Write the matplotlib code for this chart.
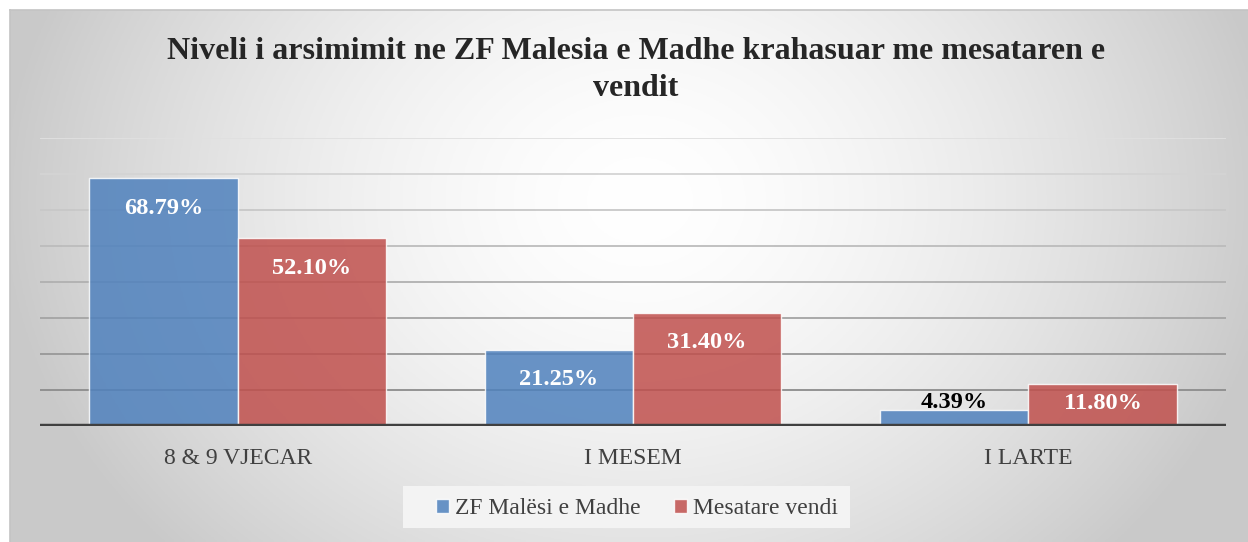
import numpy as np
import matplotlib
matplotlib.use("Agg")
import matplotlib.pyplot as plt
from matplotlib.patches import Rectangle

# ---- data ----
categories = ["8 & 9 VJECAR", "I MESEM", "I LARTE"]
series_names = ["ZF Malësi e Madhe", "Mesatare vendi"]
zf_values = [68.79, 21.25, 4.39]
national_values = [52.10, 31.40, 11.80]
label_texts_zf = ["68.79%", "21.25%", "4.39%"]
label_texts_nat = ["52.10%", "31.40%", "11.80%"]
title = "Niveli i arsimimit ne ZF Malesia e Madhe krahasuar me mesataren e\nvendit"

W, H = 1248, 542
fig = plt.figure(figsize=(W / 100, H / 100), dpi=100)
fig.patch.set_facecolor("white")

# ---- background radial gradient chart area ----
bg = fig.add_axes([10 / W, 0, (W - 10) / W, (H - 10) / H], zorder=0)
bg.set_axis_off()
xx, yy = np.meshgrid(np.linspace(10, W, 400), np.linspace(10, H, 200))
cx, cy = 640, 200
r = np.sqrt(((xx - cx) / 640) ** 2 + ((yy - cy) / 520) ** 2)
r = np.clip(r, 0, 1)
val = 1.0 - 0.21 * r ** 1.6
img = np.dstack([val, val, val])
bg.imshow(img, extent=[0, 1, 0, 1], aspect="auto", origin="upper")
bg.set_xlim(0, 1)
bg.set_ylim(0, 1)
bg.plot([0, 1], [1, 1], color="#c4c4c4", lw=1.2, transform=bg.transAxes, clip_on=False)
bg.plot([0, 0], [0, 1], color="#c4c4c4", lw=1.2, transform=bg.transAxes, clip_on=False)

# ---- main axes ----
ax = fig.add_axes([40 / W, (H - 426) / H, 1186 / W, 288 / H], zorder=2)
ax.set_facecolor("none")
ax.set_xlim(-0.5, len(categories) - 0.5)
ax.set_ylim(0, 80)

# gridlines (lighter toward the top)
grid_vals = np.arange(10, 81, 10)
for gv in grid_vals:
    t = (gv - 10) / 70
    c = 0.55 + 0.33 * t
    ax.axhline(gv, color=(c, c, c), lw=1.3, zorder=1)

x = np.arange(len(categories))
bw = 0.375
b1 = ax.bar(x - bw / 2, zf_values, bw, color="#4F81BD", alpha=0.85,
            edgecolor=(1, 1, 1, 0.6), linewidth=1.0, zorder=2, label=series_names[0])
b2 = ax.bar(x + bw / 2, national_values, bw, color="#C0504D", alpha=0.85,
            edgecolor=(1, 1, 1, 0.6), linewidth=1.0, zorder=2, label=series_names[1])

ax.axhline(0, color="#404040", lw=3.2, zorder=3)

for s in ax.spines.values():
    s.set_visible(False)
ax.set_yticks([])
ax.set_xticks(x)
ax.set_xticklabels(categories, family="Liberation Serif", fontsize=17, color="#404040")
ax.tick_params(axis="x", length=0, pad=16)

# data labels
px_per_unit = 288 / 80
for bars, texts in ((b1, label_texts_zf), (b2, label_texts_nat)):
    for rect, txt in zip(bars, texts):
        h = rect.get_height()
        xc = rect.get_x() + rect.get_width() / 2
        hp = h * px_per_unit
        if hp > 30:
            off = -min(30, hp / 2 - 1)
            col = "white"
        else:
            off = 8
            col = "black"
        ax.annotate(txt, (xc, h), xytext=(0, off), textcoords="offset pixels",
                    ha="center", va="center", fontsize=17.6, fontweight="bold",
                    family="Liberation Serif", color=col, zorder=5)

# title
fig.text(636 / W, 1 - 70 / H, title, ha="center", va="center",
         family="Liberation Serif", fontweight="bold", fontsize=23,
         color="#262626", linespacing=1.32)

# legend background
fig.add_artist(Rectangle((403 / W, 1 - 528 / H), (850 - 403) / W, 42 / H,
                         transform=fig.transFigure, facecolor="#f3f3f3",
                         edgecolor="none", zorder=1))
leg = fig.legend(handles=[b1, b2], labels=series_names, loc="center",
                 bbox_to_anchor=(637 / W, 1 - 509 / H), ncol=2, frameon=False,
                 prop={"family": "Liberation Serif", "size": 17},
                 handlelength=0.55, handleheight=0.55, handletextpad=0.25,
                 columnspacing=1.4)
for t in leg.get_texts():
    t.set_color("#404040")
leg.set_zorder(5)

fig.savefig("out.png", dpi=100)
